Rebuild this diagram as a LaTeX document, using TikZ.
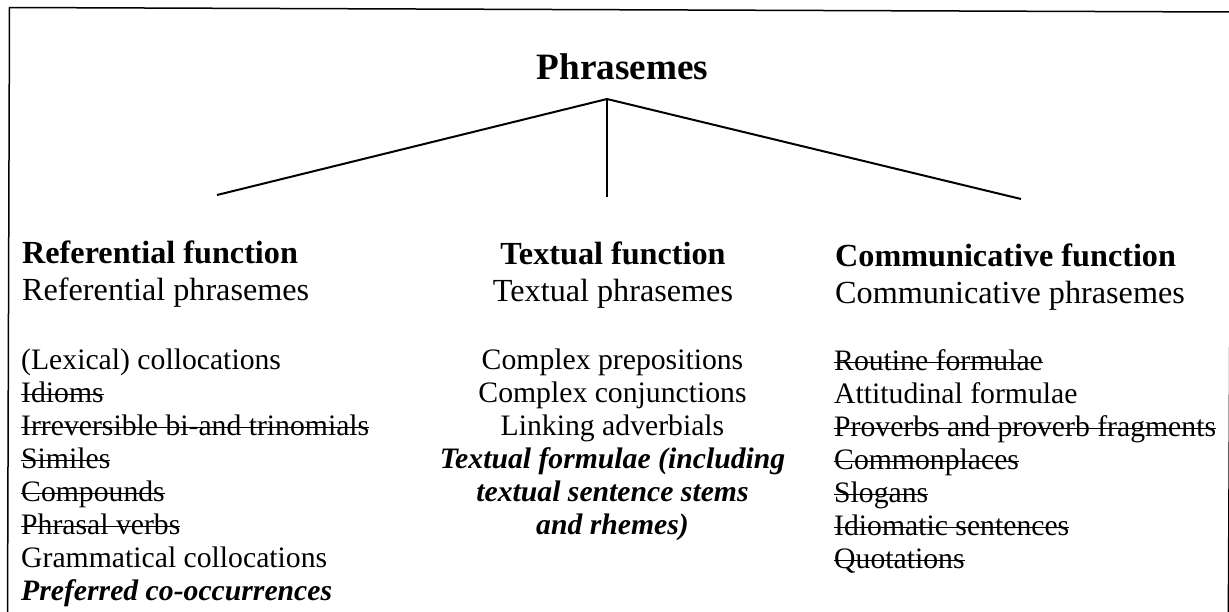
\documentclass[tikz,border=0pt]{standalone}
\usepackage{fontspec}
\setmainfont{Liberation Serif}

% struck-through text: a rule across the x-height, as wide as the text
\newsavebox\strkbox
\newcommand\strk[1]{\sbox\strkbox{#1}\rlap{\rule[0.22em]{\wd\strkbox}{0.065em}}\usebox\strkbox}

\begin{document}
\begin{tikzpicture}[x=1pt,y=-1pt,
  frame/.style={line width=1.5pt},
  branch/.style={line width=2pt},
  stem/.style={line width=1.5pt},
  title/.style={inner sep=0pt, anchor=base, font=\fontsize{37.2}{42}\selectfont\bfseries},
  headL/.style={inner sep=0pt, anchor=base west, font=\fontsize{32.2}{37}\selectfont\bfseries},
  subL/.style={inner sep=0pt, anchor=base west, font=\fontsize{32.2}{37}\selectfont},
  headC/.style={headL, anchor=base},
  subC/.style={subL, anchor=base},
  itemL/.style={inner sep=0pt, anchor=base west, font=\fontsize{29.7}{33}\selectfont},
  itemC/.style={itemL, anchor=base},
  emph/.style={font=\fontsize{29.7}{33}\selectfont\bfseries\itshape}
]
\useasboundingbox (0,0) rectangle (1229,611);

% outer frame (its lower edge lies below the page)
\begin{scope}
  \clip (0,0) rectangle (1229,611);
  \coordinate (fbl) at (7.5,620);
  \coordinate (ftl) at (9.5,7.5);
  \coordinate (ftr) at (1231.5,12);
  \coordinate (fbr) at (1228.3,620);
  \draw[frame] (fbl) -- (ftl) -- (ftr) -- (fbr);
\end{scope}

% root and its three branches
\node[title] (root) at (622.5,79) {Phrasemes};
\coordinate (apex) at (607,99);
\coordinate (refend) at (217,195);
\coordinate (texend) at (607,197);
\coordinate (comend) at (1021,199);
\draw[branch] (refend) -- (apex) -- (comend);
\draw[stem] (apex) -- (texend);

% referential column
\node[headL] (refh) at (22,263) {Referential function};
\node[subL]  (refs) at (22,300) {Referential phrasemes};
\node[itemL] (r1) at (21,369) {(Lexical) collocations};
\node[itemL] (r2) at (21,402) {\strk{Idioms}};
\node[itemL] (r3) at (21,435) {\strk{Irreversible bi-and trinomials}};
\node[itemL] (r4) at (21,468) {\strk{Similes}};
\node[itemL] (r5) at (21,501) {\strk{Compounds}};
\node[itemL] (r6) at (21,534) {\strk{Phrasal verbs}};
\node[itemL] (r7) at (21,567) {Grammatical collocations};
\node[itemL,emph] (r8) at (21,600) {Preferred co-occurrences};

% textual column
\node[headC] (texh) at (613,264.5) {Textual function};
\node[subC]  (texs) at (613,301.5) {Textual phrasemes};
\node[itemC] (t1) at (612.5,369.5) {Complex prepositions};
\node[itemC] (t2) at (612.5,402.5) {Complex conjunctions};
\node[itemC] (t3) at (612.5,435.5) {Linking adverbials};
\node[itemC,emph] (t4) at (612.5,468.5) {Textual formulae (including};
\node[itemC,emph] (t5) at (612.5,501.5) {textual sentence stems};
\node[itemC,emph] (t6) at (612.5,534.5) {and rhemes)};

% communicative column
\node[headL] (comh) at (835,266) {Communicative function};
\node[subL]  (coms) at (835,303) {Communicative phrasemes};
\node[itemL] (c1) at (834,370) {\strk{Routine formulae}};
\node[itemL] (c2) at (834,403) {Attitudinal formulae};
\node[itemL] (c3) at (834,436) {\strk{Proverbs and proverb fragments}};
\node[itemL] (c4) at (834,469) {\strk{Commonplaces}};
\node[itemL] (c5) at (834,502) {\strk{Slogans}};
\node[itemL] (c6) at (834,535) {\strk{Idiomatic sentences}};
\node[itemL] (c7) at (834,568) {\strk{Quotations}};
\end{tikzpicture}
\end{document}
